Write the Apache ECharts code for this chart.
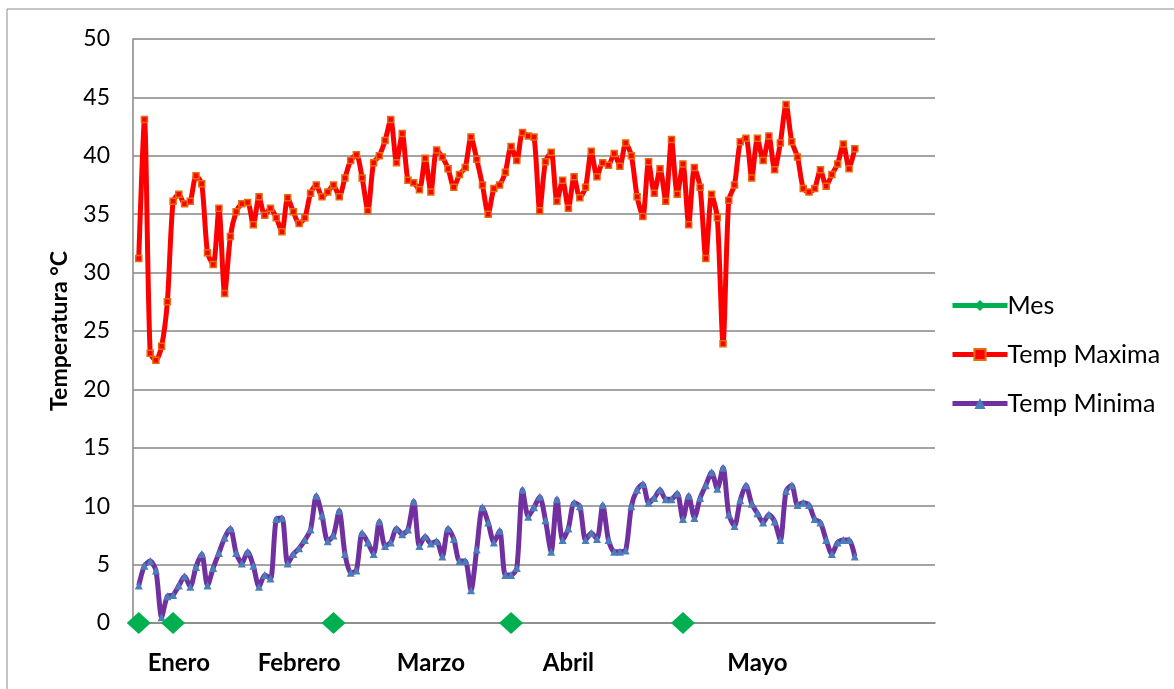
<!DOCTYPE html>
<html>
<head>
<meta charset="utf-8">
<script src="https://cdn.jsdelivr.net/npm/echarts@6/dist/echarts.min.js"></script>
<style>
  html, body { margin: 0; padding: 0; background: #fff; }
  #chart { width: 1174px; height: 689px; }
</style>
</head>
<body>
<div id="chart"></div>
<script>
// temperaturas diarias
const maxTemp = [
  31.2, 43.1, 23.1, 22.5, 23.7, 27.5, 36.1, 36.7, 35.9, 36.1,
  38.3, 37.6, 31.7, 30.7, 35.5, 28.2, 33.1, 35.2, 35.9, 36.0,
  34.1, 36.5, 34.9, 35.5, 34.7, 33.5, 36.4, 35.2, 34.2, 34.7,
  36.8, 37.5, 36.5, 36.9, 37.5, 36.5, 38.1, 39.6, 40.1, 38.1,
  35.3, 39.4, 40.0, 41.3, 43.1, 39.4, 41.9, 37.9, 37.7, 37.1,
  39.8, 36.9, 40.5, 39.9, 38.9, 37.3, 38.4, 39.0, 41.6, 39.7,
  37.5, 35.0, 37.2, 37.5, 38.6, 40.8, 39.6, 42.0, 41.7, 41.6,
  35.3, 39.5, 40.3, 36.1, 37.9, 35.5, 38.2, 36.4, 37.3, 40.4,
  38.2, 39.4, 39.2, 40.2, 39.1, 41.1, 40.0, 36.5, 34.8, 39.5,
  36.8, 38.9, 36.1, 41.4, 36.7, 39.3, 34.1, 39.0, 37.3, 31.2,
  36.7, 34.7, 23.9, 36.2, 37.5, 41.2, 41.5, 38.1, 41.5, 39.6,
  41.7, 38.8, 41.1, 44.4, 41.2, 39.9, 37.2, 36.9, 37.2, 38.8,
  37.4, 38.4, 39.3, 41.0, 38.9, 40.6
]
const minTemp = [
  3.2, 4.9, 5.3, 4.5, 0.5, 2.3, 2.4, 3.2, 4.0, 3.1,
  4.8, 5.9, 3.2, 4.7, 6.0, 7.3, 8.1, 6.0, 5.1, 6.1,
  4.9, 3.1, 4.1, 3.8, 8.9, 9.0, 5.1, 5.9, 6.4, 7.1,
  8.0, 10.9, 9.2, 7.0, 7.5, 9.6, 5.9, 4.3, 4.5, 7.7,
  6.9, 5.9, 8.7, 6.6, 6.9, 8.1, 7.6, 8.0, 10.4, 6.6,
  7.4, 6.8, 7.0, 5.7, 8.1, 7.2, 5.3, 5.3, 2.8, 6.3,
  9.9, 8.6, 6.9, 7.9, 4.1, 4.1, 4.7, 11.4, 9.1, 9.9,
  10.8, 8.8, 6.1, 10.6, 7.1, 8.1, 10.3, 10.0, 7.1, 7.7,
  7.2, 10.1, 7.1, 6.1, 6.1, 6.2, 10.0, 11.4, 11.9, 10.3,
  10.7, 11.4, 10.6, 10.6, 11.1, 8.9, 10.9, 9.0, 10.7, 11.8,
  12.9, 11.5, 13.3, 9.3, 8.3, 10.5, 11.8, 10.2, 9.4, 8.6,
  9.3, 8.7, 7.1, 11.3, 11.8, 10.1, 10.3, 10.1, 8.9, 8.6,
  7.1, 5.9, 6.9, 7.1, 7.1, 5.7
]
// marcas de "Mes" (indice del dia, valor 0)
const mesIdx = [0, 6, 34, 65, 95]
const mesValue = 0
// etiquetas del eje x y su posicion (en categorias)
const monthNames = ['Enero', 'Febrero', 'Marzo', 'Abril', 'Mayo']
const monthPos = [8, 29, 52, 76, 109]
const totalCats = 141
const offset = 1 // primera categoria vacia

const fontFam = 'Lato, "Open Sans", sans-serif'

let cats = []
let maxData = []
let minData = []
let mesData = []
for (let i = 0; i < totalCats; i++) {
  const k = monthPos.indexOf(i)
  cats.push(k !== -1 ? monthNames[k] : '')
  const d = i - offset
  maxData.push(d >= 0 && d < maxTemp.length ? maxTemp[d] : null)
  minData.push(d >= 0 && d < minTemp.length ? minTemp[d] : null)
  mesData.push(mesIdx.indexOf(d) !== -1 ? mesValue : null)
}

const myChart = echarts.init(document.getElementById('chart'))
const option = {
  animation: false,
  backgroundColor: '#fff',
  graphic: [
    {
      type: 'rect',
      shape: { x: 7, y: 9, width: 1200, height: 720 },
      style: { fill: 'none', stroke: '#8c8c8c', lineWidth: 1 },
      silent: true
    }
  ],
  grid: {
    left: 133,
    right: 239,
    top: 39,
    bottom: 66
  },
  legend: {
    orient: 'vertical',
    left: 945,
    top: 288,
    itemWidth: 55,
    itemHeight: 14,
    itemGap: 24,
    lineStyle: { width: 5 },
    textStyle: { fontFamily: fontFam, fontSize: 25, color: '#000', padding: [0, 0, 0, -5] },
    data: ['Mes', 'Temp Maxima', 'Temp Minima']
  },
  xAxis: {
    type: 'category',
    boundaryGap: false,
    data: cats,
    axisLine: { lineStyle: { color: '#868686', width: 1.5 } },
    axisTick: { show: false },
    axisLabel: {
      interval: 0,
      margin: 28,
      fontFamily: fontFam,
      fontSize: 24,
      fontWeight: 'bold',
      color: '#000'
    }
  },
  yAxis: {
    type: 'value',
    min: 0,
    max: 50,
    interval: 5,
    name: 'Temperatura °C',
    nameLocation: 'middle',
    nameGap: 62,
    nameTextStyle: { fontFamily: fontFam, fontSize: 23, fontWeight: 'bold', color: '#000' },
    axisLine: { show: true, lineStyle: { color: '#868686', width: 1.5 } },
    axisTick: { show: false },
    axisLabel: { margin: 23, fontFamily: fontFam, fontSize: 23, color: '#000' },
    splitLine: { lineStyle: { color: '#868686', width: 1.5 } }
  },
  series: [
    {
      name: 'Mes',
      type: 'line',
      data: mesData,
      connectNulls: false,
      symbol: 'diamond',
      symbolSize: [24, 22],
      itemStyle: { color: '#00b050' },
      lineStyle: { color: '#00b050', width: 5 },
      z: 5
    },
    {
      name: 'Temp Maxima',
      type: 'line',
      data: maxData,
      smooth: 0.25,
      symbol: 'rect',
      symbolSize: 6,
      showAllSymbol: true,
      lineStyle: { color: '#ff0000', width: 5 },
      itemStyle: { color: '#ff0000', borderColor: '#e46c0a', borderWidth: 1.5 }
    },
    {
      name: 'Temp Minima',
      type: 'line',
      data: minData,
      smooth: 0.25,
      symbol: 'triangle',
      symbolSize: 8,
      showAllSymbol: true,
      lineStyle: { color: '#7030a0', width: 5 },
      itemStyle: { color: '#4a7ebb', borderColor: '#4a7ebb', borderWidth: 0 }
    }
  ]
}
myChart.setOption(option)
</script>
</body>
</html>
